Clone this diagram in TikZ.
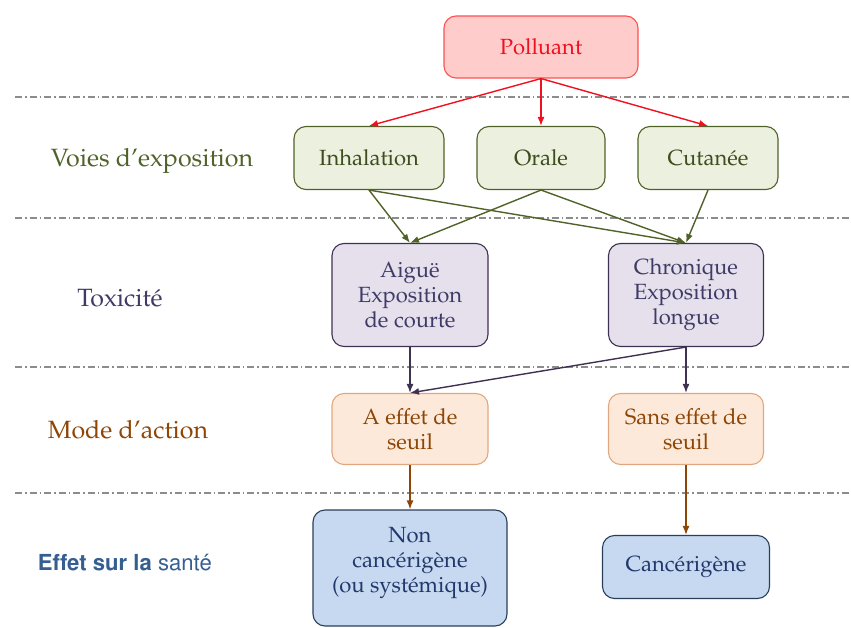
\documentclass[tikz,border=0pt]{standalone}
\usepackage[T1]{fontenc}
\usepackage{mathpazo}
\usepackage[scaled=0.92]{helvet}
\usetikzlibrary{arrows.meta}

\definecolor{pollfill}{HTML}{FFCCCC}
\definecolor{pollline}{HTML}{FF5050}
\definecolor{polltext}{HTML}{F01020}
\definecolor{voiefill}{HTML}{EBF1DE}
\definecolor{voieline}{HTML}{4F6228}
\definecolor{voietext}{HTML}{3E4C1E}
\definecolor{toxfill}{HTML}{E5E0EC}
\definecolor{toxline}{HTML}{3F3151}
\definecolor{toxtext}{HTML}{3F3A66}
\definecolor{modefill}{HTML}{FDE9D9}
\definecolor{modeline}{HTML}{E0A880}
\definecolor{modetext}{HTML}{8E4506}
\definecolor{effetfill}{HTML}{C6D9F1}
\definecolor{effetline}{HTML}{2A3F5A}
\definecolor{effettext}{HTML}{22386A}
\definecolor{effetlabel}{HTML}{365F91}
\definecolor{sepgray}{HTML}{8C8C8C}

\tikzset{
  box/.style={shape=rectangle, rounded corners=12pt, draw, line width=1.1pt,
              inner sep=0pt, align=center, font=\fontsize{22}{25}\selectfont},
  pollbox/.style={box, fill=pollfill, draw=pollline, text=polltext},
  voiebox/.style={box, fill=voiefill, draw=voieline, text=voietext},
  toxbox/.style={box, fill=toxfill, draw=toxline, text=toxtext},
  modebox/.style={box, fill=modefill, draw=modeline, text=modetext},
  effetbox/.style={box, fill=effetfill, draw=effetline, text=effettext},
  rowlabel/.style={font=\fontsize{25}{28}\selectfont},
  sep/.style={draw=sepgray, line width=1.2pt, dash pattern=on 7pt off 3pt on 1.5pt off 3pt},
}

\begin{document}
\begin{tikzpicture}[x=1pt, y=-1pt, >={Latex[length=9pt,width=7pt]}, line width=1.4pt]

  \useasboundingbox (0,0) rectangle (851,628);

  \draw [sep] (15,97) -- (851,97);
  \draw [sep] (15,218) -- (851,218);
  \draw [sep] (15,367) -- (851,367);
  \draw [sep] (15,493) -- (851,493);

  \node (pol) at (541,47) [pollbox, minimum width=194, minimum height=62] {Polluant};

  \node (voies) at (152,161) [rowlabel, text=voieline] {Voies d'exposition};
  \node (inh) at (369,158) [voiebox, minimum width=150, minimum height=63] {Inhalation};
  \node (ora) at (541,158) [voiebox, minimum width=128, minimum height=63] {Orale};
  \node (cut) at (708,158) [voiebox, minimum width=140, minimum height=63] {Cutanée};

  \node (tox) at (120,298) [rowlabel, text=toxtext] {Toxicité};
  \node (aig) at (410,295) [toxbox, minimum width=156, minimum height=103] {Aiguë\\Exposition\\de courte};
  \node (chr) at (686,295) [toxbox, minimum width=155, minimum height=103] {Chronique\\Exposition\\longue};

  \node (mode) at (128,430) [rowlabel, text=modetext] {Mode d'action};
  \node (aef) at (410,429) [modebox, minimum width=156, minimum height=71] {A effet de\\seuil};
  \node (sef) at (686,429) [modebox, minimum width=155, minimum height=71] {Sans effet de\\seuil};

  \node (effet) at (125,563) [font=\fontsize{24}{28}\sffamily, text=effetlabel] {\bfseries Effet sur la \mdseries santé};
  \node (nca) at (410,568) [effetbox, minimum width=194, minimum height=116] {Non\\cancérigène\\(ou systémique)\\[-8pt]\mbox{}};
  \node (can) at (686,567) [effetbox, minimum width=167, minimum height=63] {Cancérigène};

  \draw [->, polltext] (pol.south) -- (inh.north);
  \draw [->, polltext] (pol.south) -- (ora.north);
  \draw [->, polltext] (pol.south) -- (cut.north);

  \draw [->, voieline] (inh.south) -- (aig.north);
  \draw [->, voieline] (inh.south) -- (chr.north);
  \draw [->, voieline] (ora.south) -- (aig.north);
  \draw [->, voieline] (ora.south) -- (chr.north);
  \draw [->, voieline] (cut.south) -- (chr.north);

  \draw [->, toxline] (aig.south) -- (aef.north);
  \draw [->, toxline] (chr.south) -- (aef.north);
  \draw [->, toxline] (chr.south) -- (sef.north);

  \draw [->, modetext] (aef.south) -- (nca.north);
  \draw [->, modetext] (sef.south) -- (can.north);
\end{tikzpicture}
\end{document}
